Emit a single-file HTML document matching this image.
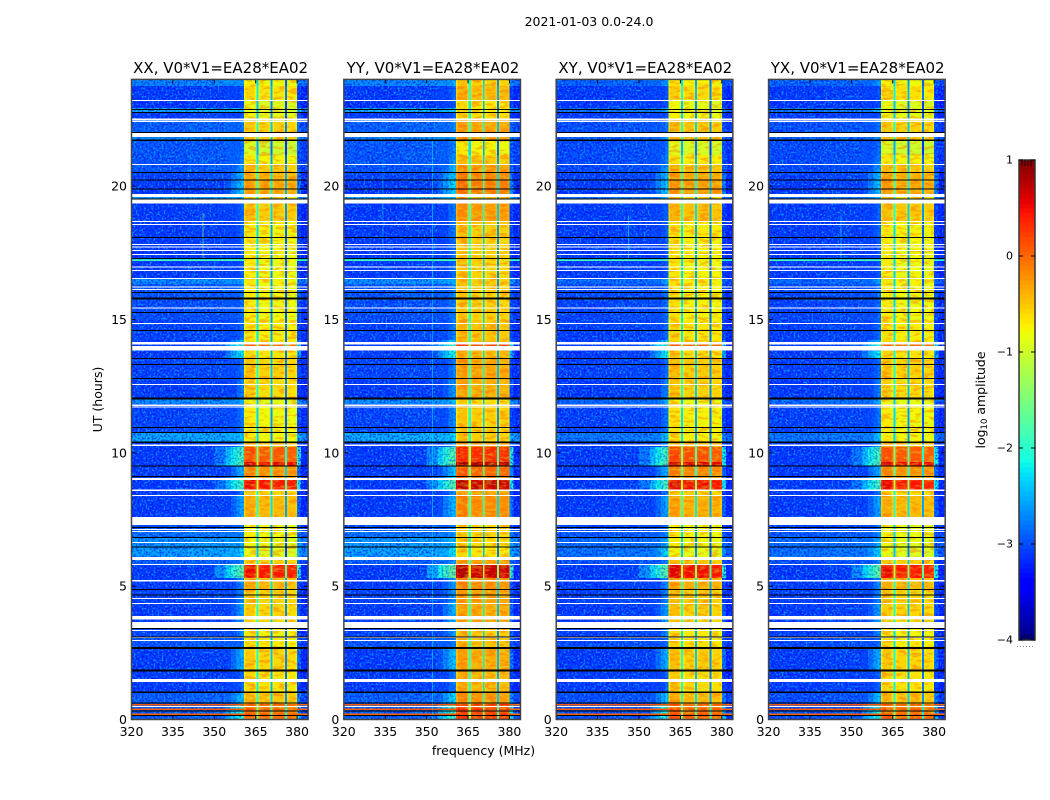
<!DOCTYPE html>
<html lang="en">
<head>
<meta charset="utf-8">
<title>2021-01-03 0.0-24.0</title>
<style>
html,body{margin:0;padding:0;background:#fff;}
svg{display:block;}
text{font-family:"DejaVu Sans","Liberation Sans",sans-serif;fill:#000;}
</style>
</head>
<body>
<svg id="chart" xmlns="http://www.w3.org/2000/svg" width="1050" height="800" viewBox="0 0 1050 800">
  <defs>
    <filter id="speckle-light" x="0" y="0" width="1" height="1" color-interpolation-filters="sRGB">
      <feTurbulence type="fractalNoise" baseFrequency="0.5" numOctaves="1" seed="3"/>
      <feColorMatrix type="matrix" values="0 0 0 0 0.03  0 0 0 0 0.62  0 0 0 0 1  8 0 0 0 -4.1"/>
    </filter>
    <filter id="speckle-dark" x="0" y="0" width="1" height="1" color-interpolation-filters="sRGB">
      <feTurbulence type="fractalNoise" baseFrequency="0.5" numOctaves="1" seed="11"/>
      <feColorMatrix type="matrix" values="0 0 0 0 0  0 0 0 0 0  0 0 0 0 0.95  8 0 0 0 -3.8"/>
    </filter>
    <filter id="speckle-band-orange" x="0" y="0" width="1" height="1" color-interpolation-filters="sRGB">
      <feTurbulence type="fractalNoise" baseFrequency="0.1 0.3" numOctaves="2" seed="7"/>
      <feColorMatrix type="matrix" values="0 0 0 0 1  0 0 0 0 0.42  0 0 0 0 0  7 0 0 0 -3.5"/>
    </filter>
    <filter id="speckle-band-green" x="0" y="0" width="1" height="1" color-interpolation-filters="sRGB">
      <feTurbulence type="fractalNoise" baseFrequency="0.14 0.35" numOctaves="2" seed="21"/>
      <feColorMatrix type="matrix" values="0 0 0 0 0.72  0 0 0 0 1  0 0 0 0 0.25  7 0 0 0 -3.6"/>
    </filter>
  </defs>
  <text x="589" y="26" text-anchor="middle" font-size="12.5">2021-01-03 0.0-24.0</text>
  <text x="483.5" y="755" text-anchor="middle" font-size="12.5">frequency (MHz)</text>
  <text x="0" y="0" transform="translate(102,399.5) rotate(-90)" text-anchor="middle" font-size="12.5">UT (hours)</text>
  <text x="0" y="0" transform="translate(985,400) rotate(-90)" text-anchor="middle" font-size="12.5">log<tspan font-size="8.5" dy="2">10</tspan><tspan dy="-2"> amplitude</tspan></text>
  <g id="panels"></g>
  <g id="colorbar"></g>
</svg>
<script>
// ---- categories and tick labels ----
var panelTitles = ["XX, V0*V1=EA28*EA02", "YY, V0*V1=EA28*EA02", "XY, V0*V1=EA28*EA02", "YX, V0*V1=EA28*EA02"];
var xTicks = [320, 335, 350, 365, 380];
var yTicks = [0, 5, 10, 15, 20];
var colorbarTicks = [1, 0, -1, -2, -3, -4];

// ---- heatmap time rows (UT hours, top to bottom) ----
var rowEdges = [24,23.76,23.23,22.93,22.74,22.48,22.03,21.84,21.73,21.17,20.79,20.53,20.23,19.71,19.59,19.37,18.66,17.98,17.31,17.25,17.19,16.56,16.33,15.73,14.98,14.23,14.06,14.01,13.56,12.73,12.04,11.83,10.78,10.41,10.22,9.66,9.51,9.13,9.02,8.61,8.42,7.59,7.11,6.84,6.47,6.09,5.83,5.31,4.86,4.37,3.43,3.13,2.68,1.86,1.03,0.575,0.52,0.41,0.355,0.225,0.17,0];
// level of the off-band noise floor in each row (log10 amplitude)
var floorLevels = [-2.6,-3.0,-3.05,-2.4,-3.0,-2.8,-3,-2.6,-2.85,-2.85,-2.85,-2.95,-3,-3,-2.4,-3,-3,-3,-2.4,-1.8,-3,-2.55,-2.85,-2.9,-2.95,-3,-3,-3,-2.95,-3,-2.55,-2.95,-2.4,-3,-3,-3,-3,-3,-3,-3,-3,-2.9,-2.7,-2.5,-2.45,-2.8,-3,-3,-2.95,-3,-2.95,-2.85,-3,-3,-2.8,0.15,-2.8,0.15,-2.8,0.1,-2.8];
// level of the skirt next to the band in each row
var skirtLevels = [-2.6,-3.0,-3.05,-2.4,-3.0,-2.8,-3,-2.6,-2.85,-2.75,-2.6,-2.45,-2.4,-3,-2.4,-2.9,-2.9,-2.95,-2.6,-2.5,-2.95,-2.55,-2.8,-2.85,-2.85,-2.4,-2.0,-2.2,-2.85,-2.75,-2.5,-2.8,-2.4,-2.7,-1.85,-1.75,-2.5,-2.3,-1.85,-2.8,-2.55,-2.8,-2.7,-2.5,-2.3,-2.7,-1.7,-2.7,-2.7,-2.6,-2.7,-2.85,-2.5,-2.9,-2.4,-1.9,-2.0,-1.9,-2.0,-1.9,-2.0];
// level of the bright 360-380 MHz band in each row
var bandLevels = [-0.78,-0.65,-0.9,-0.9,-0.85,-0.55,-0.55,-0.5,-1.0,-0.75,-0.5,-0.38,-0.33,-0.55,-0.65,-0.5,-0.75,-0.78,-0.75,-0.75,-0.8,-0.75,-0.78,-0.78,-0.72,-0.65,0.0,-0.65,-0.55,-0.6,-0.85,-0.78,-0.78,-0.42,0.1,0.55,-0.2,-0.3,0.45,-0.6,-0.42,-0.85,-0.8,-0.85,-0.9,-0.55,0.45,-0.42,-0.55,-0.58,-0.75,-0.7,-0.58,-0.65,-0.48,0.1,-0.15,0.1,-0.1,0.1,0.02];

// ---- heatmap frequency columns (MHz); source: F floor, S skirt, B band ----
var columnEdges = [320,330,340,350,354,356,358,359.5,360.7,361.3,364.6,365.25,366,366.6,369.8,370.35,371.05,371.6,375,375.55,376.25,376.8,379.4,380,381.5,384];
var columnSource = ["F","F","F","S","S","S","S","S","B","B","B","B","B","B","B","B","B","B","B","B","B","B","B","S","F"];
var columnOffset = [-0.08,-0.08,-0.04,-0.9,-0.55,-0.3,-0.08,0.05,-0.12,0.08,-0.12,-1.55,-0.12,0,-0.12,-1.85,-0.12,0,-0.12,-2.15,-0.12,-0.03,-0.12,-0.3,-0.18];

// ---- per-polarisation adjustments: XX, YY, XY, YX ----
var panelBandOffset = [0, 0.24, 0.05, 0];
var panelSkirtOffset = [0, 0.12, 0, 0];
var panelFloorGain = [1, 1.05, 0.55, 0.55];

// ---- flagged time ranges (UT hours) ----
var whiteGapStart = [23.23,22.54,22.46,22.0,20.83,19.71,19.5,18.69,18.58,17.83,17.74,17.61,17.46,16.99,16.86,16.56,16.24,16.14,15.45,14.87,14.16,14.01,12.58,11.81,11.74,10.31,9.06,8.63,8.42,7.59,7.14,7.07,6.66,6.09,5.83,5.23,4.56,4.37,3.88,3.66,3.36,3.09,2.98,1.52,0.51];
var whiteGapEnd = [23.19,22.48,22.41,21.84,20.79,19.59,19.35,18.66,18.54,17.79,17.7,17.57,17.42,16.95,16.82,16.52,16.2,16.11,15.41,14.83,14.06,13.84,12.54,11.76,11.7,10.26,8.98,8.57,8.38,7.29,7.11,7.03,6.62,5.98,5.79,5.18,4.52,4.33,3.75,3.43,3.32,3.06,2.94,1.41,0.47];
var blackLineStart = [22.89,22.78,22.03,21.75,20.53,20.25,19.91,19.54,18.09,17.31,16.03,15.83,15.28,14.61,13.56,13.33,12.81,12.08,10.97,10.78,10.43,9.53,9.13,7.22,6.84,6.49,4.89,4.69,3.43,3.11,2.72,1.88,1.05,0.64,0.34,0.17];
var blackLineEnd = [22.86,22.74,22.0,21.69,20.49,20.21,19.88,19.5,18.06,17.27,15.99,15.75,15.24,14.57,13.52,13.29,12.77,12.0,10.93,10.74,10.37,9.49,9.09,7.18,6.81,6.45,4.86,4.65,3.39,3.07,2.64,1.8,0.99,0.6,0.3,0.13];

// ---- narrow vertical interference streaks ----
var streakPanel = [0, 2, 3, 1, 1];
var streakFreq = [345.7, 346, 346, 352, 334];
var streakStart = [19.0, 18.9, 18.9, 21.7, 21];
var streakEnd = [17.3, 17.3, 17.3, 0, 17.5];
var streakLevel = [-1.4, -2.2, -2.2, -2.3, -2.5];

// ---- axis functions ----
function xScale(panel, freq) { return 131.5 + panel * 212.35 + (freq - 320) * 2.76; }
function yScale(hours) { return 719.5 - hours * 26.67; }
function barScale(level) { return 640 - (level + 4) * 96; }

function jet(level) {
  var t = Math.max(0, Math.min(1, (level + 4) / 5));
  function seg(pts) {
    for (var i = 1; i < pts.length; i++) {
      if (t <= pts[i][0]) {
        return pts[i-1][1] + (pts[i][1] - pts[i-1][1]) * (t - pts[i-1][0]) / (pts[i][0] - pts[i-1][0]);
      }
    }
    return pts[pts.length-1][1];
  }
  var r = seg([[0,0],[0.35,0],[0.66,1],[0.89,1],[1,0.5]]);
  var g = seg([[0,0],[0.125,0],[0.375,1],[0.64,1],[0.91,0],[1,0]]);
  var b = seg([[0,0.5],[0.11,1],[0.34,1],[0.65,0],[1,0]]);
  return "rgb(" + Math.round(r*255) + "," + Math.round(g*255) + "," + Math.round(b*255) + ")";
}

var NS = "http://www.w3.org/2000/svg";
function make(tag, parent, attrs) {
  var el = document.createElementNS(NS, tag);
  for (var k in attrs) el.setAttribute(k, attrs[k]);
  parent.appendChild(el);
  return el;
}

function rowFloor(panel, row) {
  var level = floorLevels[row];
  // bright broadband rows appear in every polarisation; the weak floor rise does not
  if (level > -1.9) return level;
  return -3 + (level + 3) * panelFloorGain[panel];
}

function cellLevel(panel, row, col) {
  var floor = rowFloor(panel, row);
  var source = columnSource[col];
  var offset = columnOffset[col];
  if (source === "F") return floor + offset;
  if (source === "S") {
    var skirt = skirtLevels[row] + panelSkirtOffset[panel];
    return Math.max(floor - 0.04, skirt + offset);
  }
  return bandLevels[row] + panelBandOffset[panel] + offset;
}

var svgDefs = document.querySelector("#chart defs");
var panelsGroup = document.getElementById("panels");
panelTitles.forEach(function (title, p) {
  var g = make("g", panelsGroup, {});
  
  

  var left = xScale(p, 320), right = xScale(p, 384), top = yScale(24), bottom = yScale(0);

  // heatmap cells
  var cells = make("g", g, {"shape-rendering": "crispEdges"});
  
  
  for (var r = 0; r < rowEdges.length - 1; r++) {
    for (var c = 0; c < columnEdges.length - 1; c++) {
      var x0 = xScale(p, columnEdges[c]), x1 = xScale(p, columnEdges[c+1]);
      var y0 = yScale(rowEdges[r]), y1 = yScale(rowEdges[r+1]);
      var cell = make("rect", cells, {x: x0, y: y0, width: x1 - x0, height: y1 - y0, fill: jet(cellLevel(p, r, c))});
      
      
    }
  }

  // receiver-noise texture, only on rows at the noise floor
  var clip = make("clipPath", svgDefs, {id: "quiet-rows-" + p});
  for (var q = 0; q < rowEdges.length - 1; q++) {
    if (rowFloor(p, q) < -2.35) {
      make("rect", clip, {x: left, y: yScale(rowEdges[q]), width: right - left, height: yScale(rowEdges[q+1]) - yScale(rowEdges[q])});
    }
  }
  var quiet = make("g", g, {"clip-path": "url(#quiet-rows-" + p + ")"});
  
  
  [
    ["speckle-light", 320, 354, 0.75],
    ["speckle-dark", 320, 354, 0.5],
    ["speckle-light", 354, 360.6, 0.35],
    ["speckle-dark", 354, 360.6, 0.3],
    ["speckle-light", 380.4, 384, 0.5],
    ["speckle-dark", 380.4, 384, 0.6]
  ].forEach(function (t) {
    var texRect = make("rect", quiet, {x: xScale(p, t[1]), y: top, width: xScale(p, t[2]) - xScale(p, t[1]), height: bottom - top, filter: "url(#" + t[0] + ")", opacity: t[3]});
    
    
  });
  [[361, 365], [366.3, 370.1], [371.3, 375.3], [376.5, 379.8]].forEach(function (b) {
    var bandOrange = make("rect", g, {x: xScale(p, b[0]), y: top, width: xScale(p, b[1]) - xScale(p, b[0]), height: bottom - top, filter: "url(#speckle-band-orange)", opacity: 0.42});
    
    
    var bandGreen = make("rect", g, {x: xScale(p, b[0]), y: top, width: xScale(p, b[1]) - xScale(p, b[0]), height: bottom - top, filter: "url(#speckle-band-green)", opacity: 0.28});
    
    
  });

  // vertical streaks
  streakPanel.forEach(function (sp, i) {
    if (sp !== p) return;
    var streak = make("rect", g, {x: xScale(p, streakFreq[i]), y: yScale(streakStart[i]), width: 1, height: yScale(streakEnd[i]) - yScale(streakStart[i]), fill: jet(streakLevel[i]), "shape-rendering": "crispEdges", opacity: 0.6});
    
    
  });

  // flagged data
  whiteGapStart.forEach(function (s, i) {
    var gap = make("rect", g, {x: left, y: yScale(s), width: right - left, height: yScale(whiteGapEnd[i]) - yScale(s), fill: "#ffffff", "shape-rendering": "crispEdges"});
    
    
  });
  blackLineStart.forEach(function (s, i) {
    var line = make("rect", g, {x: left, y: yScale(s), width: right - left, height: yScale(blackLineEnd[i]) - yScale(s), fill: "#000000", "shape-rendering": "crispEdges"});
    
    
  });

  // ticks and labels
  xTicks.forEach(function (v) {
    var x = xScale(p, v);
    var t1 = make("line", g, {x1: x, x2: x, y1: bottom, y2: bottom - 4, stroke: "#000", "stroke-width": 1});
    
    
    var t2 = make("line", g, {x1: x, x2: x, y1: top, y2: top + 4, stroke: "#000", "stroke-width": 1});
    
    
    var label = make("text", g, {x: x, y: 736, "text-anchor": "middle", "font-size": 12.5});
    
    
    label.textContent = v;
  });
  yTicks.forEach(function (v) {
    var y = yScale(v);
    var t1 = make("line", g, {x1: left, x2: left + 4, y1: y, y2: y, stroke: "#000", "stroke-width": 1});
    
    
    var t2 = make("line", g, {x1: right, x2: right - 4, y1: y, y2: y, stroke: "#000", "stroke-width": 1});
    
    
    var label = make("text", g, {x: left - 4.5, y: y + 4.5, "text-anchor": "end", "font-size": 12.5});
    
    
    label.textContent = v;
  });

  // frame
  var frame = make("rect", g, {x: left, y: top, width: right - left, height: bottom - top, fill: "none", stroke: "#444", "stroke-width": 1.5});
  
  

  // title
  var titleEl = make("text", g, {x: (left + right) / 2 + 0.8, y: 73, "text-anchor": "middle", "font-size": 15});
  
  
  titleEl.textContent = title;
});

// colorbar
var barGroup = document.getElementById("colorbar");
var barStep = 0.05;
for (var lv = -4; lv < 1 - 1e-9; lv += barStep) {
  var seg = make("rect", barGroup, {x: 1019, y: barScale(lv + barStep), width: 16, height: barScale(lv) - barScale(lv + barStep) + 0.3, fill: jet(lv + barStep / 2), "shape-rendering": "crispEdges"});
  
  
}
var barFrame = make("rect", barGroup, {x: 1019, y: 160, width: 16, height: 480, fill: "none", stroke: "#333", "stroke-width": 1.5});


colorbarTicks.forEach(function (v) {
  var y = barScale(v);
  var leftTick = make("line", barGroup, {x1: 1019, x2: 1023, y1: y, y2: y, stroke: "#000"});
  
  
  var rightTick = make("line", barGroup, {x1: 1035, x2: 1031, y1: y, y2: y, stroke: "#000"});
  
  
  var label = make("text", barGroup, {x: 1013, y: y + 3.5, "text-anchor": "end", "font-size": 11});
  
  
  label.textContent = v < 0 ? "\u2212" + (-v) : String(v);
});
var barMinor = [1022, 1025, 1028, 1031];
barMinor.forEach(function (x) {
  var topMinor = make("line", barGroup, {x1: x, x2: x, y1: 160, y2: 166, stroke: "#000", opacity: 0.7});
  
  
  var bottomMinor = make("line", barGroup, {x1: x, x2: x, y1: 634, y2: 640, stroke: "#000", opacity: 0.5});
  
  
});
var barDots = make("line", barGroup, {x1: 1017, x2: 1035, y1: 646.5, y2: 646.5, stroke: "#888", "stroke-width": 1, "stroke-dasharray": "1 2"});


</script>
</body>
</html>
